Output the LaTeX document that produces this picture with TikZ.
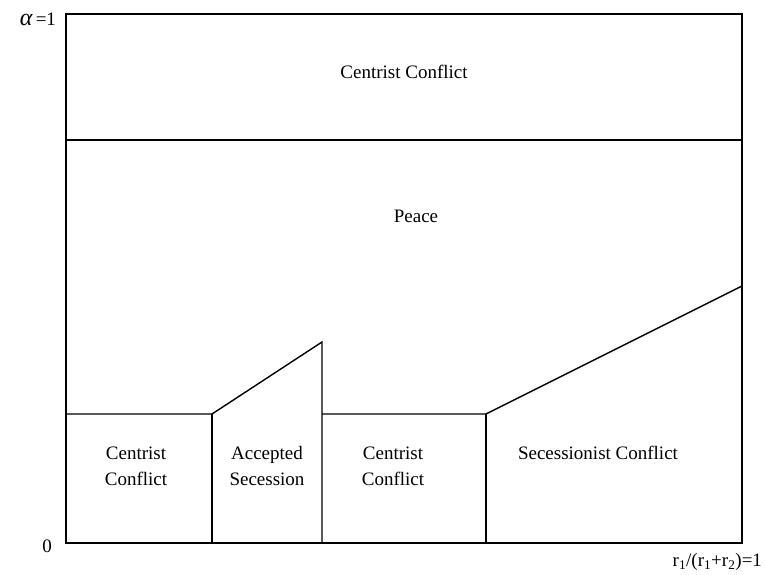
\documentclass[tikz,border=0pt]{standalone}
\usepackage{fontspec}
\setmainfont{Liberation Serif}
\usepackage{amsmath}
\tikzset{region/.style={font=\fontsize{19}{26}\selectfont,align=center},
  axislab/.style={font=\fontsize{19}{22}\selectfont}}

\begin{document}
\begin{tikzpicture}[x=1pt,y=-1pt,line width=1.4pt]
\useasboundingbox (0,0) rectangle (765,575);
% corners of the box
\coordinate (tl) at (66,14);
\coordinate (br) at (742,543);
\coordinate (ml) at (66,140);
\coordinate (mr) at (742,140);
% lower boundary
\coordinate (a0) at (66,414);
\coordinate (a1) at (212,414);
\coordinate (a2) at (322,342);
\coordinate (a3) at (322,414);
\coordinate (a4) at (486,414);
\coordinate (a5) at (742,286);
\coordinate (b1) at (212,543);
\coordinate (b3) at (322,543);
\coordinate (b4) at (486,543);
\draw (tl) rectangle (br);
\draw (ml) -- (mr);
\draw (a0) -- (a1) -- (a2) -- (b3);
\draw (a1) -- (b1);
\draw (a3) -- (a4) -- (a5);
\draw (a4) -- (b4);
% labels
\node[region] (top) at (404,72) {Centrist Conflict};
\node[region] (peace) at (416,216) {Peace};
\node[region] (cc1) at (136,466) {Centrist\\Conflict};
\node[region] (acc) at (267,466) {Accepted\\Secession};
\node[region] (cc2) at (393,466) {Centrist\\Conflict};
\node[region] (sec) at (598,453) {Secessionist Conflict};
\node[axislab,anchor=east] (alpha) at (60,19) {{\fontsize{24}{24}\selectfont\itshape α}\,=1};
\node[axislab,anchor=east] (zero) at (56,546) {0};
\node[axislab,anchor=east] (ratio) at (766,562) {r\textsubscript{1}/(r\textsubscript{1}+r\textsubscript{2})=1};
\end{tikzpicture}
\end{document}
